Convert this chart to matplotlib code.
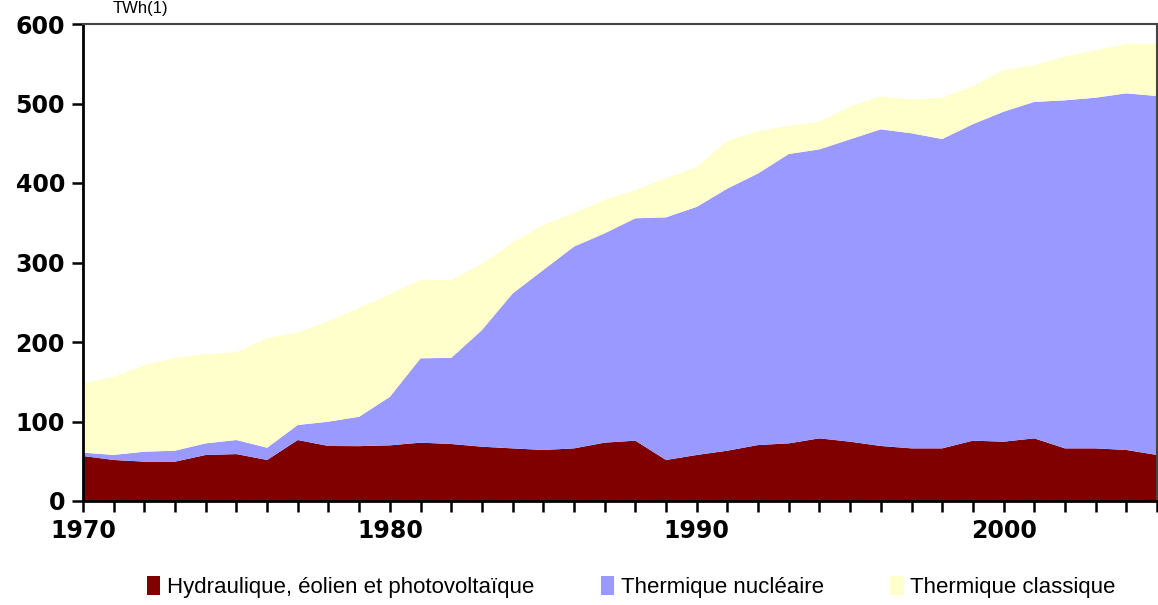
import matplotlib
matplotlib.use("Agg")
import matplotlib.pyplot as plt
from matplotlib.patches import Rectangle
from matplotlib.ticker import MultipleLocator

years = list(range(1970, 2006))

# TWh
hydraulique = [56.6, 51.6, 49.5, 49.5, 57.9, 59.0, 51.6, 76.7, 69.2, 69.0,
               70.0, 73.4, 71.7, 68.3, 66.2, 64.2, 66.2, 73.4, 75.9, 51.6,
               57.9, 63.3, 70.4, 72.5, 78.8, 74.6, 69.2, 66.2, 66.2, 75.9,
               74.6, 78.8, 66.2, 66.2, 64.2, 57.9]
nucleaire = [4.2, 6.4, 12.5, 13.8, 14.6, 17.7, 15.4, 18.9, 30.6, 37.0,
             61.0, 106.1, 108.3, 146.7, 194.8, 226.4, 253.8, 263.3, 279.7, 305.2,
             312.1, 329.7, 341.6, 364.0, 363.5, 380.4, 398.3, 396.3, 389.1, 398.1,
             415.1, 423.2, 437.8, 441.1, 448.6, 451.5]
classique = [87.2, 98.0, 109.0, 116.7, 112.5, 110.3, 138.0, 116.4, 126.2, 137.0,
             129.0, 98.5, 98.0, 83.0, 64.0, 56.4, 42.0, 42.3, 35.4, 49.2,
             50.0, 60.0, 53.0, 35.5, 34.7, 41.0, 41.5, 42.5, 51.7, 48.0,
             52.3, 46.0, 55.0, 59.7, 62.2, 65.6]

labels = ["Hydraulique, éolien et photovoltaïque", "Thermique nucléaire", "Thermique classique"]
colors = ["#800000", "#9999FF", "#FFFFCC"]

plt.rcParams['font.family'] = ['Liberation Sans', 'DejaVu Sans']

fig = plt.figure(figsize=(11.58, 6.05), dpi=100)
ax = fig.add_axes([83 / 1158, 1 - 501 / 605, 1074 / 1158, 477 / 605])

ax.stackplot(years, hydraulique, nucleaire, classique, colors=colors, linewidth=0)

ax.set_xlim(1970, 2005)
ax.set_ylim(0, 600)
ax.yaxis.set_major_locator(MultipleLocator(100))
ax.xaxis.set_major_locator(MultipleLocator(10))
ax.xaxis.set_minor_locator(MultipleLocator(1))

ax.tick_params(axis='both', which='both', direction='out', length=8, width=1.8, color='black')
ax.tick_params(axis='x', which='major', pad=5)
ax.tick_params(axis='y', which='major', pad=5)
for lab in ax.get_xticklabels() + ax.get_yticklabels():
    lab.set_fontfamily('DejaVu Sans')
    lab.set_fontsize(17)
    lab.set_fontweight('bold')

for side in ['left', 'bottom']:
    ax.spines[side].set_linewidth(2)
    ax.spines[side].set_color('black')
for side in ['top', 'right']:
    ax.spines[side].set_linewidth(1.5)
    ax.spines[side].set_color('#444444')

fig.text(113 / 1158, 1 - 1 / 605, "TWh(1)", fontsize=12, ha='left', va='top')

handles = [Rectangle((0, 0), 1, 1, facecolor=c, edgecolor='none') for c in colors]
fig.legend(handles, labels, loc='center', bbox_to_anchor=(0.545, 1 - 587 / 605), ncol=3,
           frameon=False, fontsize=16, handlelength=0.6, handleheight=0.9,
           handletextpad=0.3, columnspacing=3.0)

fig.savefig("out.png", dpi=100)
